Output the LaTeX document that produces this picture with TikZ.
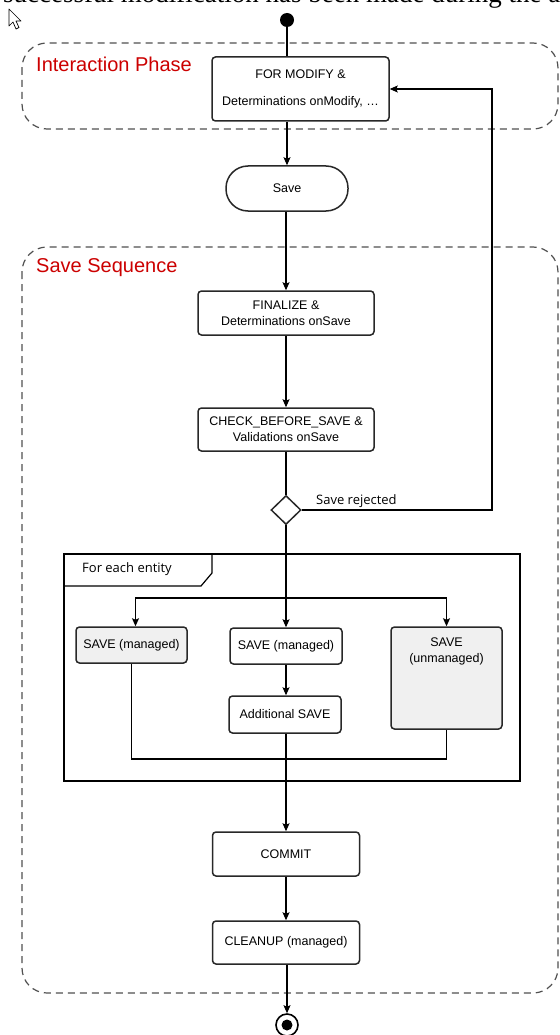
\documentclass[tikz,border=0pt]{standalone}
\usepackage{fontspec}
\setmainfont{Liberation Sans}
\newfontfamily\bodyserif{Liberation Serif}
\newfontfamily\uifont{Open Sans}
\usetikzlibrary{arrows.meta,shapes.geometric,calc}

\definecolor{phasered}{RGB}{204,0,0}
\definecolor{boxline}{RGB}{40,40,40}
\definecolor{regionline}{RGB}{80,80,80}
\definecolor{managedfill}{RGB}{240,240,240}

\tikzset{
  flow/.style={draw=black, line width=1.1pt},
  arr/.style={flow, -{Stealth[length=8pt,width=7pt,inset=1.5pt]}},
  region/.style={draw=regionline, line width=1.2pt, dash pattern=on 7pt off 5pt, rounded corners=25pt},
  phase/.style={anchor=west, text=phasered, font=\fontsize{20}{24}\selectfont, inner sep=0pt},
  activity/.style={draw=boxline, line width=1.5pt, rounded corners=3.5pt, rectangle,
    inner sep=0pt, align=center, font=\fontsize{12.5}{16}\selectfont},
  uilabel/.style={font=\uifont\fontsize{13}{16}\selectfont, inner sep=0pt},
}

\begin{document}
\begin{tikzpicture}[x=1pt,y=-1pt]
\useasboundingbox (0,0) rectangle (559,1035);
\fill[white] (0,0) rectangle (559,1035);

% running text line above the figure, cut by the page edge
\begin{scope}
  \clip (0,0) rectangle (559,1035);
  \node[anchor=base west, inner sep=0pt, font=\bodyserif\fontsize{27}{30}\selectfont] (prose) at (3,2.5)
    {successful modification has been made during the a};
\end{scope}

% pointer
\draw[black, line width=0.7pt, fill=white, line join=round]
  (9,9) -- (9,26) -- (13,22) -- (16,29) -- (19,27.5) -- (16,21) -- (21,21) -- cycle;

% regions
\draw[region] (22,43) rectangle (558,129);
\node[phase] (iplabel) at (36,64) {Interaction Phase};
\draw[region] (22,247) rectangle (558,993);
\node[phase] (sslabel) at (36,268) {Save Sequence};

% initial node
\node[circle, fill=black, minimum size=14pt, inner sep=0pt] (start) at (287,20) {};

% activities
\node[activity, minimum width=177pt, minimum height=64pt, font=\fontsize{12.5}{27}\selectfont] (fm) at (300.5,89)
  {FOR MODIFY \&\\Determinations onModify, …};
\node[activity, minimum width=122pt, minimum height=45pt, rounded corners=22pt] (save) at (287,188.5) {Save};
\node[activity, minimum width=176pt, minimum height=44pt] (fin) at (286,313)
  {FINALIZE \&\\Determinations onSave};
\node[activity, minimum width=176pt, minimum height=43pt] (chk) at (286,429.5)
  {CHECK\_BEFORE\_SAVE \&\\Validations onSave};
\node[diamond, draw=boxline, line width=1.5pt, minimum width=30pt, minimum height=29pt, inner sep=0pt] (dec) at (286,510) {};
\node[uilabel, anchor=base west] (rej) at (316,504) {Save rejected};

% loop frame
\draw[black, line width=1.5pt] (64,554) rectangle (520,781);
\draw[black, line width=1.2pt] (64,586) -- (201,586) -- (212,573) -- (212,554);
\node[uilabel, anchor=west] (loopname) at (82,569) {For each entity};

\node[activity, fill=managedfill, minimum width=111pt, minimum height=36pt] (ls) at (131.5,645) {SAVE (managed)};
\node[activity, minimum width=112pt, minimum height=36pt] (ms) at (286,646) {SAVE (managed)};
\node[activity, minimum width=112pt, minimum height=37pt] (add) at (285,714.5) {Additional SAVE};
\node[activity, fill=managedfill, minimum width=111pt, minimum height=102pt] (rs) at (446.5,678) {};
\node[align=center, inner sep=0pt, font=\fontsize{12.5}{16}\selectfont] (rstext) at (446.5,651) {SAVE\\(unmanaged)};

\node[activity, minimum width=147pt, minimum height=44pt] (commit) at (286,854) {COMMIT};
\node[activity, minimum width=147pt, minimum height=43pt] (clean) at (286,942.5) {CLEANUP (managed)};

% final node
\node[circle, draw=black, line width=1.6pt, minimum size=22pt, inner sep=0pt] (endo) at (287,1025) {};
\node[circle, fill=black, minimum size=11pt, inner sep=0pt] (endi) at (endo) {};

% control flow
\coordinate (retlow) at (492,510);
\coordinate (split) at (286,598);
\coordinate (join) at (286,759);

\draw[flow] (start) -- (start |- fm.north);
\draw[arr] (start |- fm.south) -- (save.north);
\draw[arr] (save.south -| fin.north) -- (fin.north);
\draw[arr] (fin) -- (chk);
\draw[flow] (chk.south) -- (dec.north);
\draw[arr] (dec.east) -- (retlow) |- (fm.east);
\draw[arr] (dec.south) -- (ms.north);
\draw[arr] (split) -| ($(ls.north)+(4,0)$);
\draw[arr] (split) -| (rs.north);
\draw[arr] (ms) -- (ms.south |- add.north);
\draw[flow] (ls.south) |- (join);
\draw[flow] (rs.south) |- (join);
\draw[arr] (add.south -| commit.north) -- (commit.north);
\draw[arr] (commit) -- (clean);
\draw[arr] (clean.south -| endo.north) -- (endo.north);
\end{tikzpicture}
\end{document}
